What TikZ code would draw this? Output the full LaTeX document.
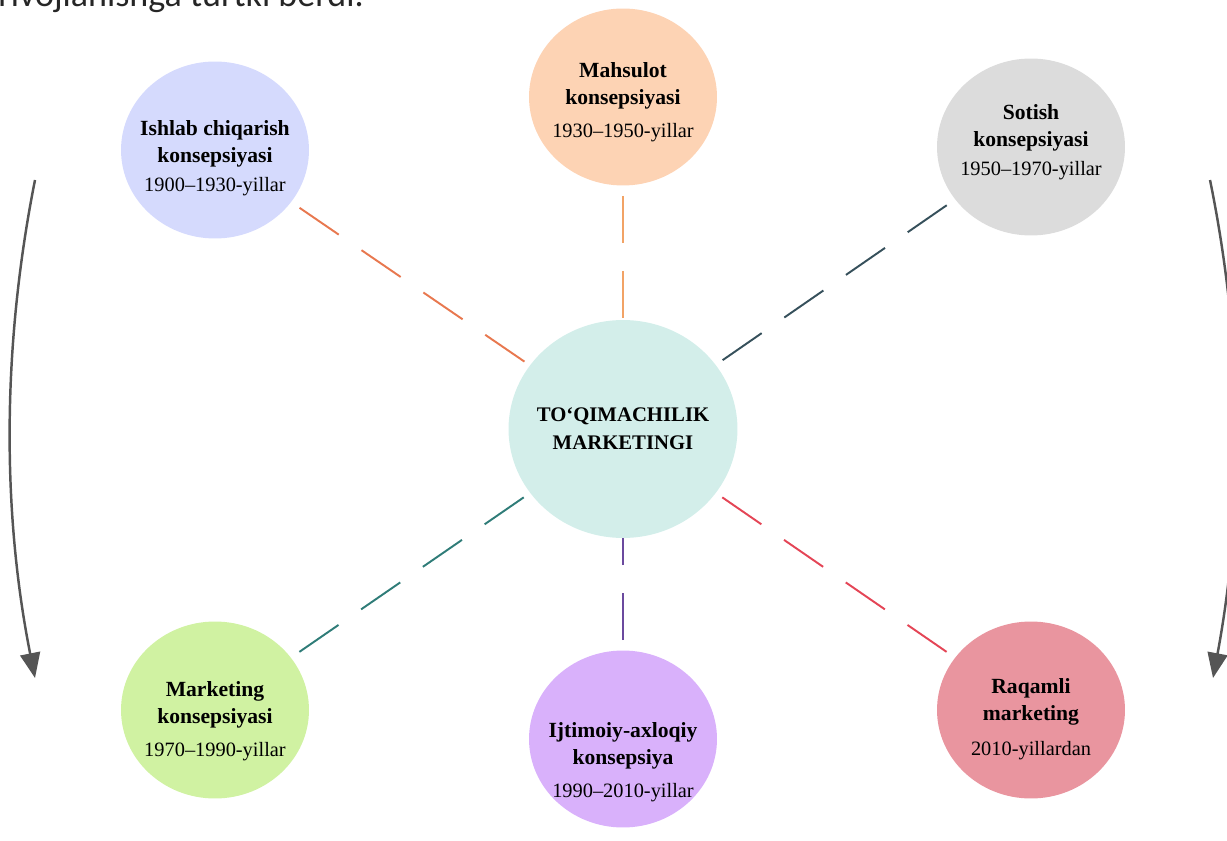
\documentclass[tikz,border=0pt]{standalone}
\usepackage{fontspec}
\setmainfont{Liberation Serif}
\newfontfamily\topfont{Carlito}
\usetikzlibrary{shapes.geometric,arrows.meta}
\definecolor{fIshlab}{HTML}{D5DAFD}
\definecolor{fMahsulot}{HTML}{FDD3B4}
\definecolor{fSotish}{HTML}{DCDCDC}
\definecolor{fToq}{HTML}{D3EEEA}
\definecolor{fMarketing}{HTML}{D0F2A2}
\definecolor{fIjtimoiy}{HTML}{D9B1FB}
\definecolor{fRaqamli}{HTML}{E9959F}
\definecolor{lIshlab}{HTML}{E8784F}
\definecolor{lMahsulot}{HTML}{F2A366}
\definecolor{lSotish}{HTML}{36505B}
\definecolor{lMarketing}{HTML}{2F7C78}
\definecolor{lIjtimoiy}{HTML}{6B4A9E}
\definecolor{lRaqamli}{HTML}{E44556}
\definecolor{flowgray}{HTML}{555555}
\newcommand{\ttl}[1]{{\fontsize{12.3}{15.5}\selectfont\bfseries #1}}
\tikzset{
  era/.style={ellipse, inner sep=0pt, minimum width=3.76cm, minimum height=3.54cm},
  eratext/.style={inner sep=0pt, align=center, font=\fontsize{11.6}{15.5}\selectfont},
  hub/.style={ellipse, inner xsep=-0.4cm, inner ysep=0pt, minimum width=4.58cm, minimum height=4.36cm,
    align=center, font=\fontsize{11.8}{16}\selectfont\bfseries},
  link/.style={line width=1.1pt, dash pattern=on 0.95cm off 0.55cm, shorten <=0.2cm},
  flow/.style={line width=1.4pt, flowgray, -{Triangle[length=0.5cm,width=0.4cm]}}
}
\begin{document}
\begin{tikzpicture}[x=0.02cm,y=-0.02cm]
        \clip (0,0) rectangle (1227,841);
        \node[anchor=base west, inner sep=0pt, text=black!85, font=\topfont\fontsize{20.5}{24}\selectfont] (head) at (-2,7) {rivojlanishga turtki berdi.};
        \node[hub, fill=fToq] (toq) at (623,429) {TO‘QIMACHILIK\\MARKETINGI};
        \node[era, fill=fIshlab] (ishlab) at (215,150) {};
        \node[era, fill=fMahsulot] (mahsulot) at (623,97) {};
        \node[era, fill=fSotish] (sotish) at (1031,147) {};
        \node[era, fill=fMarketing] (marketing) at (215,710) {};
        \node[era, fill=fIjtimoiy] (ijtimoiy) at (623,739) {};
        \node[era, fill=fRaqamli] (raqamli) at (1031,710) {};
        \node[eratext] (ishlabT) at (215,158) {\ttl{Ishlab chiqarish}\\\ttl{konsepsiyasi}\\[1pt]1900--1930-yillar};
        \node[eratext] (mahsulotT) at (623,102) {\ttl{Mahsulot}\\\ttl{konsepsiyasi}\\[3pt]1930--1950-yillar};
        \node[eratext] (sotishT) at (1031,142) {\ttl{Sotish}\\\ttl{konsepsiyasi}\\[1pt]1950--1970-yillar};
        \node[eratext] (marketingT) at (215,721) {\ttl{Marketing}\\\ttl{konsepsiyasi}\\[3pt]1970--1990-yillar};
        \node[eratext] (ijtimoiyT) at (623,762) {\ttl{Ijtimoiy-axloqiy}\\\ttl{konsepsiya}\\[3pt]1990--2010-yillar};
        \node[eratext] (raqamliT) at (1031,719) {\ttl{Raqamli}\\\ttl{marketing}\\[4pt]2010-yillardan};
        \draw[link, lIshlab] (ishlab) to (toq);
        \draw[link, lMahsulot] (mahsulot) to (toq);
        \draw[link, lSotish] (sotish) to (toq);
        \draw[link, lMarketing] (marketing) to (toq);
        \draw[link, lIjtimoiy] (ijtimoiy) to (toq);
        \draw[link, lRaqamli] (raqamli) to (toq);
        \coordinate (leftTop) at (35,180);
        \coordinate (leftEnd) at (35,678);
        \coordinate (rightTop) at (1210,180);
        \coordinate (rightEnd) at (1213,678);
        \draw[flow] (leftTop) .. controls (2,346) and (2,512) .. (leftEnd);
        \draw[flow] (rightTop) .. controls (1244,346) and (1244,512) .. (rightEnd);
\end{tikzpicture}
\end{document}
